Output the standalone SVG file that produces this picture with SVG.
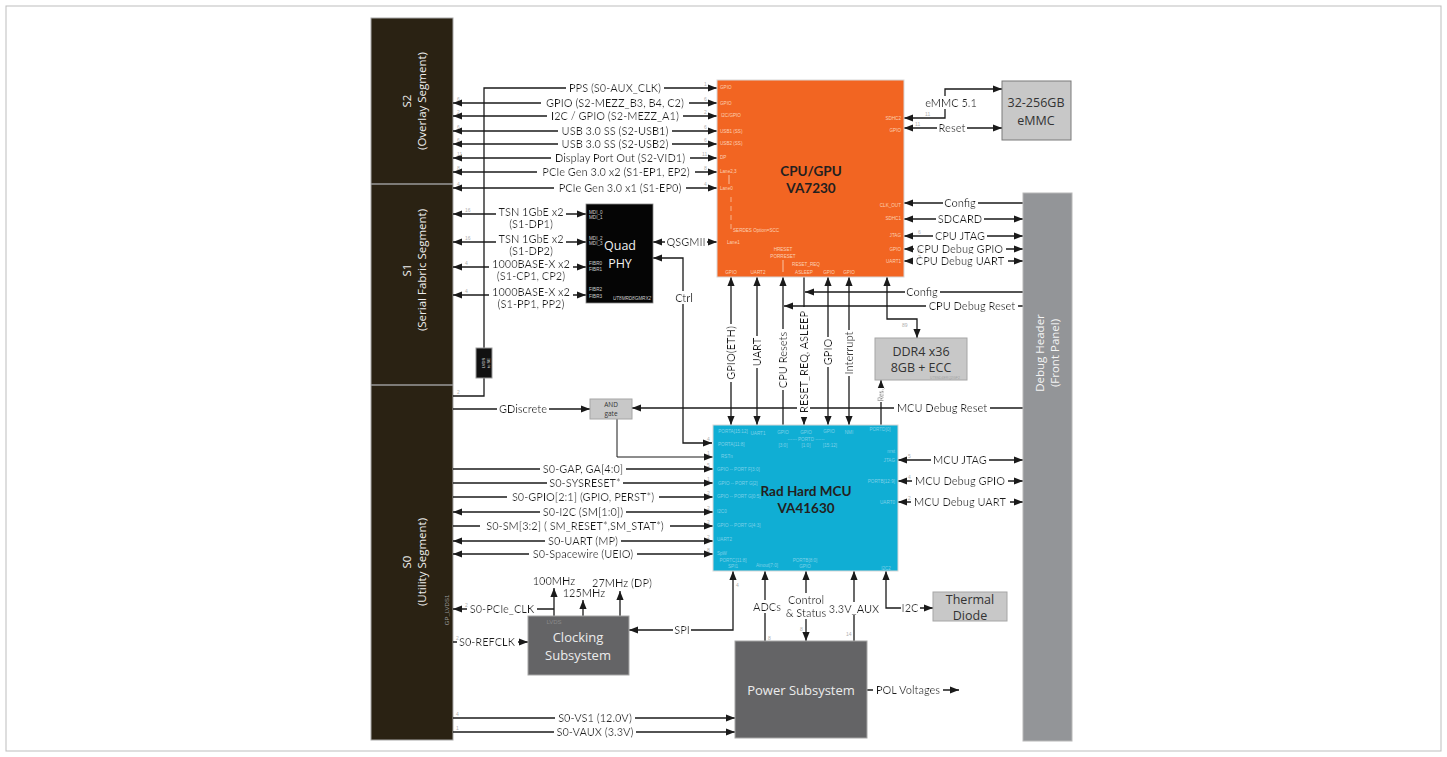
<svg xmlns="http://www.w3.org/2000/svg" width="1447" height="757" viewBox="0 0 1447 757">
<defs>
<marker id="a" viewBox="0 0 10 8" refX="10" refY="4" markerWidth="9" markerHeight="8" markerUnits="userSpaceOnUse" orient="auto-start-reverse"><path d="M0,0 L10,4 L0,8 z" fill="#1a1a1a"/></marker>
<filter id="bg" x="-0.03" y="0" width="1.06" height="1"><feFlood flood-color="#ffffff"/><feComposite in="SourceGraphic" operator="over"/></filter>
<style>
.c{fill:none;stroke:#1a1a1a;stroke-width:1.3}
.e{marker-end:url(#a)}
.b{marker-start:url(#a);marker-end:url(#a)}
.t{font-family:Lato,"Liberation Sans",sans-serif;font-size:11px;fill:#1a1a1a;text-anchor:middle;filter:url(#bg)}
.n{font-family:"Liberation Sans",sans-serif;font-size:5px;fill:#b0b0b0}
.pc{font-family:"Liberation Sans",sans-serif;font-size:4.6px;fill:#fcd0b4}
.pm{font-family:"Liberation Sans",sans-serif;font-size:4.6px;fill:#7fd0e8}
.seg{font-family:"Open Sans","Liberation Sans",sans-serif;font-size:11.5px;fill:#eeeeee;text-anchor:middle}
.ttl{font-family:Lato,"Liberation Sans",sans-serif;font-size:13.5px;font-weight:bold;fill:#231f20;text-anchor:middle}
.bx{font-family:"Open Sans","Liberation Sans",sans-serif;font-size:12.5px;fill:#333;text-anchor:middle}
.wx{font-family:"Open Sans","Liberation Sans",sans-serif;font-size:13px;fill:#ececec;text-anchor:middle}
.lg{fill:#c8c8c8;stroke:#a6a6a6;stroke-width:1}
.dg{fill:#646466;stroke:#a6a6a6;stroke-width:1}
</style>
</defs>
<rect x="6" y="6" width="1435" height="745" fill="#fff" stroke="#bdbdbd" stroke-width="1"/>

<g id="segments">
<rect x="371" y="18" width="82" height="722" fill="#2a2213" stroke="#a8a8a8" stroke-width="1"/>
<line x1="371" y1="184" x2="453" y2="184" stroke="#9a9a9a" stroke-width="1.5"/>
<line x1="371" y1="385" x2="453" y2="385" stroke="#9a9a9a" stroke-width="1.5"/>
<text class="seg" transform="translate(412,101) rotate(-90)"><tspan x="0" y="-1">S2</tspan><tspan x="0" y="14">(Overlay Segment)</tspan></text>
<text class="seg" transform="translate(412,270) rotate(-90)"><tspan x="0" y="-1">S1</tspan><tspan x="0" y="14">(Serial Fabric Segment)</tspan></text>
<text class="seg" transform="translate(412,562) rotate(-90)"><tspan x="0" y="-1">S0</tspan><tspan x="0" y="14">(Utility Segment)</tspan></text>
<text transform="translate(449,610) rotate(-90)" text-anchor="middle" font-family="Liberation Sans, sans-serif" font-size="6" fill="#9a9a9a">GP_LVDS1</text>
</g>

<g id="connectors">
<!-- S2 -->
<path class="c e" d="M453,396 H484 V88 H717"/>
<path class="c b" d="M453,103 H717"/>
<path class="c b" d="M453,116 H717"/>
<path class="c b" d="M453,131 H717"/>
<path class="c b" d="M453,144 H717"/>
<path class="c b" d="M453,158 H717"/>
<path class="c b" d="M453,172 H717"/>
<path class="c b" d="M453,188 H717"/>
<text class="t" x="615" y="92">PPS (S0-AUX_CLK)</text>
<text class="t" x="615" y="107">GPIO (S2-MEZZ_B3, B4, C2)</text>
<text class="t" x="615" y="120">I2C / GPIO (S2-MEZZ_A1)</text>
<text class="t" x="615" y="135">USB 3.0 SS (S2-USB1)</text>
<text class="t" x="615" y="148">USB 3.0 SS (S2-USB2)</text>
<text class="t" x="620" y="162">Display Port Out (S2-VID1)</text>
<text class="t" x="616" y="176">PCIe Gen 3.0 x2 (S1-EP1, EP2)</text>
<text class="t" x="620" y="192">PCIe Gen 3.0 x1 (S1-EP0)</text>
<!-- S1 -->
<path class="c b" d="M453,214 H586"/>
<path class="c b" d="M453,242 H586"/>
<path class="c b" d="M453,267 H586"/>
<path class="c b" d="M453,295 H586"/>
<text class="t" x="531" y="216">TSN 1GbE x2</text><text class="t" x="531" y="228">(S1-DP1)</text>
<text class="t" x="531" y="243">TSN 1GbE x2</text><text class="t" x="531" y="255">(S1-DP2)</text>
<text class="t" x="531" y="268">1000BASE-X x2</text><text class="t" x="531" y="280">(S1-CP1, CP2)</text>
<text class="t" x="531" y="296">1000BASE-X x2</text><text class="t" x="531" y="308">(S1-PP1, PP2)</text>
<path class="c b" d="M653,242 H717"/>
<text class="t" x="686" y="246">QSGMII</text>
<path class="c b" d="M712,443 H683 V258 H653"/>
<text class="t" x="684" y="302">Ctrl</text>
<!-- CPU right -->
<path class="c b" d="M904,118 H945 V89 H1002"/>
<text class="t" x="951" y="107">eMMC 5.1</text>
<path class="c b" d="M904,128 H1002"/>
<text class="t" x="952" y="132">Reset</text>
<path class="c e" d="M1023,203 H904"/>
<text class="t" x="960" y="207">Config</text>
<path class="c b" d="M904,219 H1023"/>
<text class="t" x="960" y="223">SDCARD</text>
<path class="c b" d="M904,236 H1023"/>
<text class="t" x="960" y="240">CPU JTAG</text>
<path class="c b" d="M904,249 H1023"/>
<text class="t" x="960" y="253">CPU Debug GPIO</text>
<path class="c b" d="M904,261 H1023"/>
<text class="t" x="960" y="265">CPU Debug UART</text>
<!-- CPU to MCU -->
<path class="c b" d="M731,277 V425"/>
<path class="c b" d="M757,277 V425"/>
<path class="c e" d="M783,425 V277"/>
<path class="c e" d="M804,268 V425"/>
<path class="c b" d="M828,277 V425"/>
<path class="c b" d="M849,277 V425"/>
<path class="c b" d="M887,277 V319 H917 V338"/>
<path class="c e" d="M881,425 V380"/>
<path class="c e" d="M1023,292 H805"/>
<path class="c e" d="M1023,306 H784"/>
<path class="c e" d="M1023,408 H632"/>
<text class="t" x="922" y="296">Config</text>
<text class="t" x="972" y="310">CPU Debug Reset</text>
<text class="t" x="942" y="412">MCU Debug Reset</text>
<text class="t" transform="translate(735,353) rotate(-90)" x="0" y="0">GPIO(ETH)</text>
<text class="t" transform="translate(761,352) rotate(-90)" x="0" y="0">UART</text>
<text class="t" transform="translate(787,360) rotate(-90)" x="0" y="0">CPU Resets</text>
<text class="t" transform="translate(808,362) rotate(-90)" x="0" y="0">RESET_REQ, ASLEEP</text>
<text class="t" transform="translate(832,352) rotate(-90)" x="0" y="0">GPIO</text>
<text class="t" transform="translate(853,353) rotate(-90)" x="0" y="0">Interrupt</text>
<text class="t" transform="translate(883.5,395) rotate(-90)" x="0" y="0" style="font-size:7px">Res.</text>
<!-- AND gate -->
<path class="c e" d="M453,409 H590"/>
<text class="t" x="523" y="413">GDiscrete</text>
<path class="c e" d="M617,419 V457 H713" style="stroke-width:1"/>
<!-- S0 to MCU -->
<path class="c e" d="M453,469 H713"/>
<path class="c e" d="M453,483 H713"/>
<path class="c e" d="M453,497 H713"/>
<path class="c b" d="M453,512 H713"/>
<path class="c e" d="M453,526 H713"/>
<path class="c b" d="M453,541 H713"/>
<path class="c b" d="M453,554 H713"/>
<text class="t" x="583" y="473">S0-GAP, GA[4:0]</text>
<text class="t" x="585" y="487">S0-SYSRESET*</text>
<text class="t" x="583" y="501">S0-GPIO[2:1] (GPIO, PERST*)</text>
<text class="t" x="583" y="516">S0-I2C (SM[1:0])</text>
<text class="t" x="575" y="530">S0-SM[3:2] ( SM_RESET*,SM_STAT*)</text>
<text class="t" x="583" y="545">S0-UART (MP)</text>
<text class="t" x="583" y="558">S0-Spacewire (UEIO)</text>
<!-- MCU right -->
<path class="c b" d="M898,460 H1023"/>
<path class="c b" d="M898,481 H1023"/>
<path class="c b" d="M898,502 H1023"/>
<text class="t" x="960" y="464">MCU JTAG</text>
<text class="t" x="960" y="485">MCU Debug GPIO</text>
<text class="t" x="960" y="506">MCU Debug UART</text>
<!-- Clocking -->
<path class="c e" d="M554,616 V588"/>
<path class="c e" d="M583,616 V600"/>
<path class="c e" d="M620,616 V591"/>
<text class="t" x="554" y="585">100MHz</text>
<text class="t" x="584" y="597">125MHz</text>
<text class="t" x="622" y="587">27MHz (DP)</text>
<path class="c e" d="M554,609 H453"/>
<text class="t" x="502" y="613">S0-PCIe_CLK</text>
<path class="c e" d="M453,642 H528"/>
<text class="t" x="487" y="646">S0-REFCLK</text>
<path class="c b" d="M733,571 V630 H629"/>
<text class="t" x="682" y="634">SPI</text>
<path class="c e" d="M453,718 H735"/>
<path class="c e" d="M453,732 H735"/>
<text class="t" x="595" y="722">S0-VS1 (12.0V)</text>
<text class="t" x="595" y="736">S0-VAUX (3.3V)</text>
<!-- Power -->
<path class="c e" d="M765,641 V571"/>
<text class="t" x="767" y="611">ADCs</text>
<path class="c b" d="M806,571 V641"/>
<text class="t" x="806" y="604">Control</text>
<text class="t" x="806" y="617">&amp; Status</text>
<path class="c e" d="M854,641 V571"/>
<text class="t" x="854" y="613">3.3V_AUX</text>
<path class="c b" d="M886,571 V608 H933"/>
<text class="t" x="910" y="612">I2C</text>
<path class="c e" d="M867,690 H959"/>
<text class="t" x="908" y="694">POL Voltages</text>
<!-- tiny counts -->
<text class="n" x="457" y="101">6</text><text class="n" x="457" y="114">2</text><text class="n" x="457" y="129">6</text><text class="n" x="457" y="142">6</text><text class="n" x="457" y="156">11</text><text class="n" x="457" y="170">8</text><text class="n" x="457" y="186">4</text>
<text class="n" x="704" y="86">1</text><text class="n" x="704" y="101">6</text><text class="n" x="704" y="114">2</text><text class="n" x="704" y="129">6</text><text class="n" x="704" y="142">6</text><text class="n" x="702" y="156">11</text><text class="n" x="704" y="170">8</text><text class="n" x="704" y="186">4</text>
<text class="n" x="465" y="212">16</text><text class="n" x="465" y="240">16</text><text class="n" x="465" y="265">4</text><text class="n" x="465" y="293">4</text>
<text class="n" x="457" y="394">2</text>
<text class="n" x="925" y="116">11</text><text class="n" x="915" y="126">11</text>
<text class="n" x="918" y="234">6</text><text class="n" x="918" y="253">3</text><text class="n" x="918" y="259">2</text>
<text class="n" x="902" y="327">89</text>
<text class="n" x="737" y="431">2</text><text class="n" x="763" y="431">2</text><text class="n" x="788" y="431">2</text><text class="n" x="812" y="431">2</text><text class="n" x="834" y="431">4</text><text class="n" x="855" y="431">3</text><text class="n" x="886" y="431">1</text>
<text class="n" x="707" y="441">4</text><text class="n" x="707" y="455">1</text><text class="n" x="707" y="467">5</text><text class="n" x="707" y="481">1</text><text class="n" x="707" y="495">2</text><text class="n" x="707" y="510">2</text><text class="n" x="707" y="524">2</text><text class="n" x="707" y="539">2</text><text class="n" x="707" y="552">8</text>
<text class="n" x="908" y="458">5</text><text class="n" x="908" y="479">4</text><text class="n" x="908" y="500">2</text>
<text class="n" x="736" y="587">4</text><text class="n" x="768" y="640">8</text><text class="n" x="800" y="631">8</text><text class="n" x="846" y="636">14</text>
<text class="n" x="465" y="607">2</text><text class="n" x="456" y="640">2</text><text class="n" x="456" y="716">4</text><text class="n" x="456" y="730">1</text>
<text class="n" x="1050" y="710">V1.7</text>
</g>

<g id="lvds">
<rect x="476" y="348" width="16" height="30" fill="#111" stroke="#9a9a9a" stroke-width="1"/>
<text transform="translate(486,363) rotate(-90)" text-anchor="middle" font-family="Liberation Sans, sans-serif" font-size="4" fill="#ddd"><tspan x="0" y="-1">LVDS</tspan><tspan x="0" y="4">to SE</tspan></text>
</g>

<g id="cpu">
<rect x="717" y="80" width="187" height="197" fill="#f26522" stroke="#d8d8d8" stroke-width="1"/>
<text class="ttl" x="811" y="176">CPU/GPU</text>
<text class="ttl" x="811" y="193">VA7230</text>
<g class="pc">
<text x="720" y="89">GPIO</text><text x="720" y="105">GPIO</text><text x="721" y="117">I2C/GPIO</text><text x="720" y="133">USB1 (SS)</text><text x="720" y="145">USB2 (SS)</text><text x="720" y="159">DP</text><text x="720" y="173">Lane2,3</text><text x="720" y="190">Lane0</text><text x="733" y="232">SERDES Option=SCC</text><text x="727" y="244">Lane1</text>
<text x="901" y="120" text-anchor="end">SDHC2</text><text x="901" y="132" text-anchor="end">GPIO</text><text x="901" y="207" text-anchor="end">CLK_OUT</text><text x="901" y="220" text-anchor="end">SDHC1</text><text x="901" y="237" text-anchor="end">JTAG</text><text x="901" y="251" text-anchor="end">GPIO</text><text x="901" y="263" text-anchor="end">UART1</text>
<text x="731" y="274" text-anchor="middle">GPIO</text><text x="758" y="274" text-anchor="middle">UART2</text><text x="783" y="251" text-anchor="middle">HRESET</text><text x="783" y="258" text-anchor="middle">PORRESET</text><text x="806" y="266" text-anchor="middle">RESET_REQ</text><text x="804" y="274" text-anchor="middle">ASLEEP</text><text x="829" y="274" text-anchor="middle">GPIO</text><text x="849" y="274" text-anchor="middle">GPIO</text>
</g>
<line x1="729" y1="175" x2="729" y2="184" stroke="#f6b48f" stroke-width="1.2"/>
<line x1="731" y1="197" x2="731" y2="230" stroke="#f8c6a6" stroke-width="0.8" stroke-dasharray="5,4"/>
<line x1="783" y1="260" x2="783" y2="272" stroke="#f8c6a6" stroke-width="1"/>
</g>

<g id="quadphy">
<rect x="586" y="204" width="67" height="99" fill="#050505" stroke="#888" stroke-width="0.8"/>
<text x="620" y="250" text-anchor="middle" font-family="Open Sans, Liberation Sans, sans-serif" font-size="12.5" fill="#f2f2f2">Quad</text>
<text x="620" y="268" text-anchor="middle" font-family="Open Sans, Liberation Sans, sans-serif" font-size="12.5" fill="#f2f2f2">PHY</text>
<g font-family="Liberation Sans, sans-serif" font-size="4.6" fill="#d0d0d0">
<text x="589" y="214">MDI_0</text><text x="589" y="219">MDI_1</text><text x="589" y="240">MDI_2</text><text x="589" y="245">MDI_3</text>
<text x="589" y="265">FIBR0</text><text x="589" y="271">FIBR1</text><text x="589" y="291">FIBR2</text><text x="589" y="298">FIBR3</text>
<text x="651" y="300" text-anchor="end" font-style="italic">UT8MRD8GMRX2</text>
</g>
</g>

<g id="emmc">
<rect x="1002" y="81" width="69" height="59" class="lg" style="stroke:#7a7a7a"/>
<text class="bx" x="1036" y="107">32-256GB</text>
<text class="bx" x="1036" y="125">eMMC</text>
</g>

<g id="debug">
<rect x="1023" y="193" width="49" height="548" fill="#939598" stroke="#b8b8b8" stroke-width="1"/>
<text transform="translate(1047,353) rotate(-90)" text-anchor="middle" font-family="Open Sans, Liberation Sans, sans-serif" font-size="11.5" fill="#f4f4f4"><tspan x="0" y="-3">Debug Header</tspan><tspan x="0" y="12">(Front Panel)</tspan></text>
</g>

<g id="ddr">
<rect x="875" y="338" width="92" height="42" class="lg"/>
<text class="bx" x="921" y="356">DDR4 x36</text>
<text class="bx" x="921" y="372">8GB + ECC</text>
<text x="945" y="379" text-anchor="middle" font-family="Liberation Sans, sans-serif" font-size="3.5" fill="#a0a0a0">UT8SD4ERQ2GF2</text>
</g>

<g id="andgate">
<rect x="590" y="399" width="42" height="20" class="lg"/>
<text x="611" y="407" text-anchor="middle" font-family="Open Sans, Liberation Sans, sans-serif" font-size="6.5" fill="#333">AND</text>
<text x="611" y="416" text-anchor="middle" font-family="Open Sans, Liberation Sans, sans-serif" font-size="6.5" fill="#333">gate</text>
</g>

<g id="mcu">
<rect x="713" y="425" width="185" height="146" fill="#10aed4" stroke="#d8d8d8" stroke-width="1"/>
<text class="ttl" x="806" y="496">Rad Hard MCU</text>
<text class="ttl" x="806" y="513">VA41630</text>
<g class="pm">
<text x="733" y="433" text-anchor="middle">PORTA[15:12]</text><text x="758" y="435" text-anchor="middle">UART1</text><text x="783" y="434" text-anchor="middle">GPIO</text><text x="806" y="434" text-anchor="middle">GPIO</text><text x="829" y="433" text-anchor="middle">GPIO</text><text x="849" y="434" text-anchor="middle">NMI</text><text x="880" y="431" text-anchor="middle">PORTD[0]</text>
<text x="806" y="441" text-anchor="middle">------ PORTD ------</text><text x="783" y="447" text-anchor="middle">[3:0]</text><text x="806" y="447" text-anchor="middle">[1:0]</text><text x="830" y="447" text-anchor="middle">[15:12]</text>
<text x="718" y="446">PORTA[11:8]</text><text x="721" y="458">RSTn</text><text x="717" y="471">GPIO -- PORT F[3:0]</text><text x="718" y="485">GPIO -- PORT G[2]</text><text x="717" y="498">GPIO -- PORT G[0:5]</text><text x="717" y="513">I2C0</text><text x="717" y="527">GPIO -- PORT G[4:3]</text><text x="717" y="541">UART2</text><text x="717" y="555">SpW</text>
<text x="733" y="562" text-anchor="middle">PORTC[11:8]</text><text x="733" y="568" text-anchor="middle">SPI1</text><text x="767" y="567" text-anchor="middle">Ainout[7:0]</text><text x="805" y="562" text-anchor="middle">PORTB[8:0]</text><text x="805" y="568" text-anchor="middle">GPIO</text><text x="886" y="570" text-anchor="middle">I2C2</text>
<text x="895" y="453" text-anchor="end">nrst</text><text x="895" y="462" text-anchor="end">JTAG</text><text x="895" y="483" text-anchor="end">PORTB[12:9]</text><text x="895" y="504" text-anchor="end">UART0</text>
</g>
</g>

<g id="clocking">
<rect x="528" y="616" width="101" height="59" class="dg"/>
<text x="554" y="624" text-anchor="middle" font-family="Liberation Sans, sans-serif" font-size="6" fill="#8a8a8a">LVDS</text>
<text class="wx" x="578" y="642">Clocking</text>
<text class="wx" x="578" y="660">Subsystem</text>
</g>

<g id="power">
<rect x="735" y="641" width="132" height="97" class="dg"/>
<text class="wx" x="801" y="695">Power Subsystem</text>
</g>

<g id="thermal">
<rect x="933" y="592" width="74" height="29" class="lg"/>
<text class="bx" x="970" y="604">Thermal</text>
<text class="bx" x="970" y="620">Diode</text>
</g>
</svg>
